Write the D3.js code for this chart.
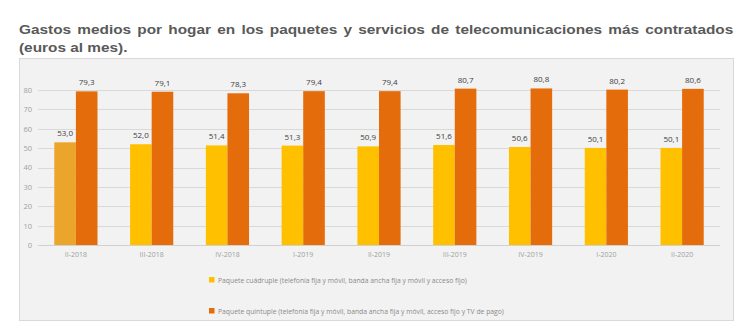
<!DOCTYPE html>
<html><head><meta charset="utf-8">
<script src="https://cdn.jsdelivr.net/npm/d3@7"></script>
<style>
html,body{margin:0;padding:0;background:#fff;}
#title{position:absolute;left:19px;top:21px;width:558px;font-family:"Liberation Sans",Arial,sans-serif;font-weight:bold;font-size:12px;line-height:18px;color:#595959;text-align:justify;text-align-last:left;transform:scaleX(1.28);transform-origin:0 0;}
svg{position:absolute;left:0;top:0;}
</style></head>
<body>
<svg id="chart" width="753" height="322"></svg>
<div id="title">Gastos medios por hogar en los paquetes y servicios de telecomunicaciones más contratados (euros al mes).</div>
<script>
const categories = ["II-2018","III-2018","IV-2018","I-2019","II-2019","III-2019","IV-2019","I-2020","II-2020"];
const cuadruple = [53.0,52.0,51.4,51.3,50.9,51.6,50.6,50.1,50.1];
const quintuple = [79.3,79.1,78.3,79.4,79.4,80.7,80.8,80.2,80.6];
const yTicks = [0,10,20,30,40,50,60,70,80];
const seriesNames = ["Paquete cuádruple (telefonía fija y móvil, banda ancha fija y móvil y acceso fijo)",
                     "Paquete quíntuple (telefonía fija y móvil, banda ancha fija y móvil, acceso fijo y TV de pago)"];
const colors = ["#FFC000","#E46C0A"];
const firstHighlight = "#EBA52B";

const svg = d3.select("#chart");
const font = "'Open Sans','Liberation Sans',Arial,sans-serif";

// chart box
svg.append("rect").attr("x",19.5).attr("y",58.5).attr("width",714).attr("height",262)
  .attr("fill","#f2f2f2").attr("stroke","#d9d9d9").attr("stroke-width",1);

const x = d3.scaleBand().domain(categories).range([38,720]).paddingInner(0.43).paddingOuter(0.215);
const x1 = d3.scaleBand().domain([0,1]).range([0,x.bandwidth()]);
const y = d3.scaleLinear().domain([0,80]).range([245,90]);

// grid
svg.append("g").selectAll("line").data(yTicks).join("line")
  .attr("x1",38).attr("x2",720).attr("y1",d=>Math.round(y(d))+0.5).attr("y2",d=>Math.round(y(d))+0.5)
  .attr("stroke",d=>d===0?"#d0d0d0":"#d9d9d9").attr("stroke-width",1);

// y axis labels
const yAxis = d3.axisLeft(y).tickValues(yTicks).tickSize(0).tickPadding(0);
const ga = svg.append("g").attr("transform","translate(32,0)").call(yAxis);
ga.select(".domain").remove();
ga.selectAll("text").attr("font-family",font).attr("font-size",7.5).attr("fill","#a0a0a0");

// x axis labels
const xAxis = d3.axisBottom(x).tickSize(0).tickPadding(0);
const gx = svg.append("g").attr("transform","translate(0,252)").call(xAxis);
gx.select(".domain").remove();
gx.selectAll("text").attr("font-family",font).attr("font-size",7).attr("fill","#a0a0a0");

const series = [cuadruple, quintuple];
series.forEach((vals,si)=>{
  const g = svg.append("g");
  g.selectAll("rect").data(vals).join("rect")
    .attr("x",(d,i)=>x(categories[i])+x1(si))
    .attr("width",x1.bandwidth())
    .attr("y",d=>y(d))
    .attr("height",d=>y(0)-y(d))
    .attr("fill",(d,i)=>(si===0&&i===0)?firstHighlight:colors[si]);
  g.selectAll("text").data(vals).join("text")
    .attr("x",(d,i)=>x(categories[i])+x1(si)+x1.bandwidth()/2)
    .attr("y",d=>y(d)-6)
    .attr("text-anchor","middle")
    .attr("font-family",font).attr("font-size",8).attr("fill","#404040")
    .text(d=>d3.format(".1f")(d).replace(".",","));
});

// legend
const lg = svg.append("g");
seriesNames.forEach((n,i)=>{
  const ly = 280 + i*31;
  lg.append("rect").attr("x",209).attr("y",ly-3).attr("width",5.5).attr("height",5.5).attr("fill",colors[i]);
  lg.append("text").attr("x",218).attr("y",ly+2.5).attr("font-family",font).attr("font-size",6.8)
    .attr("fill","#8a8a8a").text(n);
});
</script>
</body></html>
